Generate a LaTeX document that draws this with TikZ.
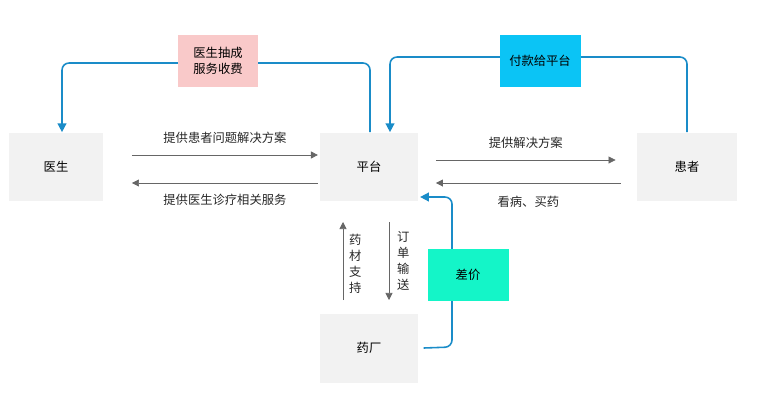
\documentclass[tikz,border=0pt]{standalone}
\usepackage{fontspec}
\newfontfamily\cjk{Noto Sans CJK SC}
\usetikzlibrary{arrows.meta,positioning}
\definecolor{flowblue}{HTML}{1A8CC8}
\definecolor{boxgray}{HTML}{F2F2F2}
\definecolor{tagpink}{HTML}{F9C9C9}
\definecolor{tagcyan}{HTML}{0BC4F5}
\definecolor{taggreen}{HTML}{14F5C8}
\tikzset{
  party/.style={fill=boxgray, minimum width=1.9cm, minimum height=1.38cm,
    font=\cjk\fontsize{7}{9}\selectfont},
  tag/.style={minimum width=1.62cm, minimum height=1.04cm, align=center,
    font=\cjk\fontsize{7}{9}\selectfont},
  info/.style={-{Triangle[length=4pt,width=4pt]}, gray!80!black, thin},
  money/.style={-{Triangle[length=5pt,width=5pt]}, flowblue, line width=0.9pt,
    rounded corners=4pt},
  lbl/.style={font=\cjk\fontsize{7}{9}\selectfont, text=black!85}
}
\begin{document}
\begin{tikzpicture}[x=0.02cm,y=-0.02cm]
\useasboundingbox (0,0) rectangle (766,409);
% parties
\node[party] (doctor) at (56,167) {医生};
\node[party, minimum width=1.96cm] (platform) at (369,167) {平台};
\node[party, minimum width=2cm] (patient) at (687,167) {患者};
\node[party, minimum width=1.96cm] (factory) at (369,348) {药厂};
% money flows
\coordinate (d1) at (370,63);
\coordinate (d2) at (62,63);
\coordinate (p1) at (687,57);
\coordinate (p2) at (390,57);
\coordinate (f1) at (452,347);
\coordinate (f2) at (452,197);
\draw[money] (platform.north -| d1) -- (d1) -- (d2) -- (doctor.north -| d2);
\draw[money] (patient.north) -- (p1) -- (p2) -- (platform.north -| p2);
\draw[money] ([xshift=3pt]factory.east) -- (f1) -- (f2) -- ([xshift=1pt]platform.east |- f2);
\node[tag, fill=tagpink] (fee) at (218,61) {医生抽成\\服务收费};
\node[tag, fill=tagcyan] (pay) at (540,61) {付款给平台};
\node[tag, fill=taggreen] (diff) at (468,275) {差价};
% services
\draw[info] ([xshift=16pt]doctor.east |- 0,155) -- ([xshift=-1pt]platform.west |- 0,155)
  node[lbl, midway, above=3pt] {提供患者问题解决方案};
\draw[info] ([xshift=-1pt]platform.west |- 0,183) -- ([xshift=16pt]doctor.east |- 0,183)
  node[lbl, midway, below=3pt] {提供医生诊疗相关服务};
\draw[info] ([xshift=10pt]platform.east |- 0,160) -- ([xshift=-12pt]patient.west |- 0,160)
  node[lbl, midway, above=3pt] {提供解决方案};
\draw[info] ([xshift=-9pt]patient.west |- 0,183) -- ([xshift=10pt]platform.east |- 0,183)
  node[lbl, midway, below=4pt] {看病、买药};
\coordinate (up1) at (343,300);
\coordinate (up2) at (343,222);
\coordinate (dn1) at (389,222);
\coordinate (dn2) at (389,300);
\draw[info] (up1) -- (up2);
\draw[info] (dn1) -- (dn2);
\node[lbl, align=center, right=0pt of up1, anchor=west, yshift=-1.5pt] (stock)
  at (343,261) {药\\材\\支\\持};
\node[lbl, align=center, anchor=west] (order) at (391,261) {订\\单\\输\\送};
\end{tikzpicture}
\end{document}
